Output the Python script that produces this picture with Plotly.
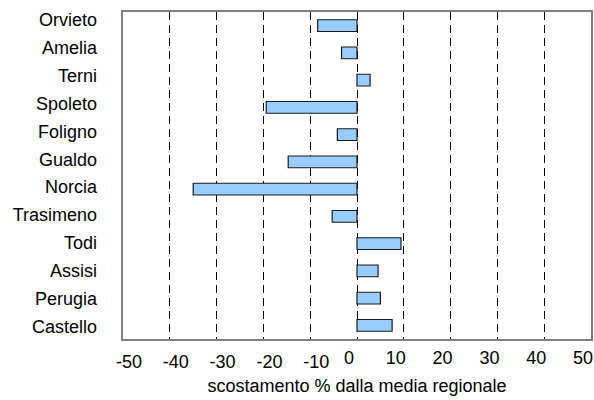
import plotly.graph_objects as go

# Comprensori, dall'alto verso il basso
comprensori = ["Orvieto", "Amelia", "Terni", "Spoleto", "Foligno", "Gualdo",
               "Norcia", "Trasimeno", "Todi", "Assisi", "Perugia", "Castello"]
# Scostamento percentuale dalla media regionale
scostamento = [-8.4, -3.3, 2.8, -19.4, -4.2, -14.7,
               -35.0, -5.3, 9.4, 4.5, 5.0, 7.5]
tick_vals = [-50, -40, -30, -20, -10, 0, 10, 20, 30, 40, 50]

FONT = "Liberation Sans, Arial, sans-serif"
n = len(comprensori)

fig = go.Figure(
    go.Bar(
        x=scostamento,
        y=comprensori,
        orientation="h",
        marker=dict(color="#99CCFF", line=dict(color="#1a1a1a", width=1.2)),
        width=0.43,
        showlegend=False,
    )
)
# empty traces so the label-only overlay axes get their own subplots
fig.add_trace(go.Scatter(x=[], y=[], xaxis="x2", yaxis="y", showlegend=False))
fig.add_trace(go.Scatter(x=[], y=[], xaxis="x", yaxis="y2", showlegend=False))

fig.update_layout(
    width=594,
    height=400,
    margin=dict(l=123, r=1, t=12, b=61),
    paper_bgcolor="white",
    plot_bgcolor="white",
    showlegend=False,
    font=dict(family=FONT, size=18, color="#000000"),
    xaxis=dict(
        range=[-50, 50],
        tickvals=tick_vals,
        ticktext=[str(v) if v < 0 else "" for v in tick_vals],
        ticklabelshift=6,
        showgrid=True,
        gridcolor="#000000",
        gridwidth=1,
        griddash="8px,5px",
        zeroline=False,
        showline=True,
        linecolor="#808080",
        linewidth=1.5,
        mirror=True,
        ticks="",
        ticklabelstandoff=6,
        title=dict(text="scostamento % dalla media regionale",
                   font=dict(size=18), standoff=8),
    ),
    xaxis2=dict(
        overlaying="x",
        matches="x",
        anchor="y",
        side="bottom",
        tickvals=[v for v in tick_vals if v >= 0],
        ticktext=[str(v) for v in tick_vals if v >= 0],
        ticklabelshift=-8,
        ticklabeloverflow="allow",
        ticklabelstandoff=6,
        showgrid=False,
        zeroline=False,
        showline=False,
        ticks="",
    ),
    yaxis=dict(
        categoryorder="array",
        categoryarray=comprensori,
        autorange="reversed",
        showgrid=False,
        zeroline=False,
        showline=True,
        linecolor="#808080",
        linewidth=1.5,
        mirror=True,
        ticks="",
        showticklabels=False,
    ),
    yaxis2=dict(
        overlaying="y",
        anchor="x",
        side="left",
        type="linear",
        range=[11.458, -0.287],
        tickvals=list(range(n)),
        ticktext=comprensori,
        showgrid=False,
        zeroline=False,
        showline=False,
        ticks="",
        ticklabelstandoff=25,
    ),
)

fig.write_html("out.html")
